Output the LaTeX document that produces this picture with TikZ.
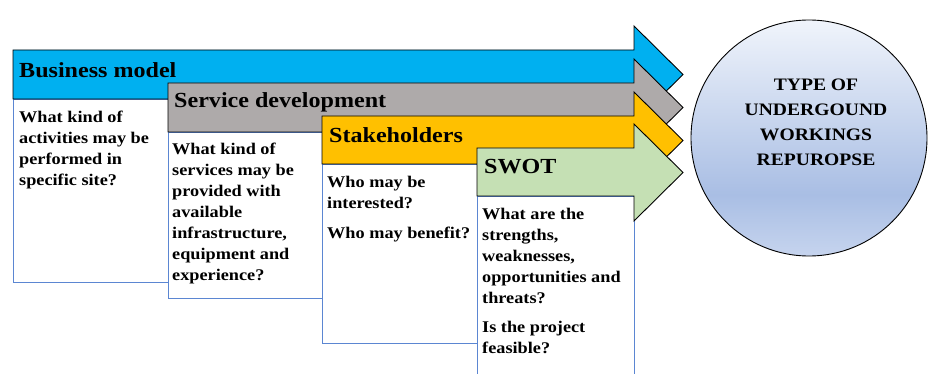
\documentclass[tikz,border=0pt]{standalone}
\usepackage{fontspec}
\setmainfont{Liberation Serif}[FakeStretch=1.12]
\definecolor{cblue}{HTML}{00B0F0}
\definecolor{cgray}{HTML}{AEAAAA}
\definecolor{cyellow}{HTML}{FFC000}
\definecolor{cgreen}{HTML}{C5E0B4}
\definecolor{cline}{HTML}{5B86D2}
\definecolor{cshA}{HTML}{F0F4FB}
\definecolor{cshB}{HTML}{A9BEE4}
\definecolor{cshC}{HTML}{C6D4EE}
\pgfdeclareverticalshading{circshade}{100bp}{
  color(0bp)=(cshC);
  color(25bp)=(cshC);
  color(38bp)=(cshB);
  color(75bp)=(cshA);
  color(100bp)=(cshA)}
\begin{document}
\begin{tikzpicture}[x=1pt,y=-1pt,
  hdr/.style={draw=black,line width=0.9pt,line join=miter},
  qbox/.style={draw=cline,line width=0.8pt,fill=white},
  hdrtext/.style={anchor=west,inner sep=0pt,font=\fontsize{21.5}{22}\selectfont\bfseries},
  qtext/.style={anchor=north west,inner sep=0pt,align=left,font=\fontsize{16.3}{21}\selectfont\bfseries},
  circtext/.style={align=center,inner sep=0pt,font=\fontsize{17.5}{25}\selectfont\bfseries}]
\useasboundingbox (0,0) rectangle (937,374);
% Business model
\path[qbox] (13,99) rectangle (634,282);
\path[hdr,fill=cblue] (13,50) -- (634,50) -- (634,26) -- (683,74.5) -- (634,123) -- (634,99) -- (13,99) -- cycle;
\node[hdrtext] (bm) at (19,70) {Business model};
\node[qtext] (bmq) at (19,111) {What kind of\\activities may be\\performed in\\specific site?};
% Service development
\path[qbox] (168,132) rectangle (634,298);
\path[hdr,fill=cgray] (168,83) -- (634,83) -- (634,59) -- (683,107.5) -- (634,156) -- (634,132) -- (168,132) -- cycle;
\node[hdrtext] (sd) at (174,102) {Service development};
\node[qtext] (sdq) at (172,143) {What kind of\\services may be\\provided with\\available\\infrastructure,\\equipment and\\experience?};
% Stakeholders
\path[qbox] (322,164) rectangle (634,343);
\path[hdr,fill=cyellow] (322,116) -- (634,116) -- (634,92) -- (683,140.5) -- (634,189) -- (634,164) -- (322,164) -- cycle;
\node[hdrtext] (st) at (329,135) {Stakeholders};
\node[qtext] (stq) at (327,176) {Who may be\\interested?\\[9pt]Who may benefit?};
% SWOT
\path[qbox] (477,196) rectangle (634,380);
\path[hdr,fill=cgreen] (477,148) -- (634,148) -- (634,124) -- (683,172.5) -- (634,221) -- (634,196) -- (477,196) -- cycle;
\node[hdrtext] (sw) at (484,167) {SWOT};
\node[qtext] (swq) at (482,208) {What are the\\strengths,\\weaknesses,\\opportunities and\\threats?\\[8pt]Is the project\\feasible?};
% Circle
\path[draw=black,line width=0.9pt,shading=circshade] (809,138) circle (118);
\node[circtext] (ct) at (816,122) {TYPE OF\\UNDERGOUND\\WORKINGS\\REPUROPSE};
\end{tikzpicture}
\end{document}
